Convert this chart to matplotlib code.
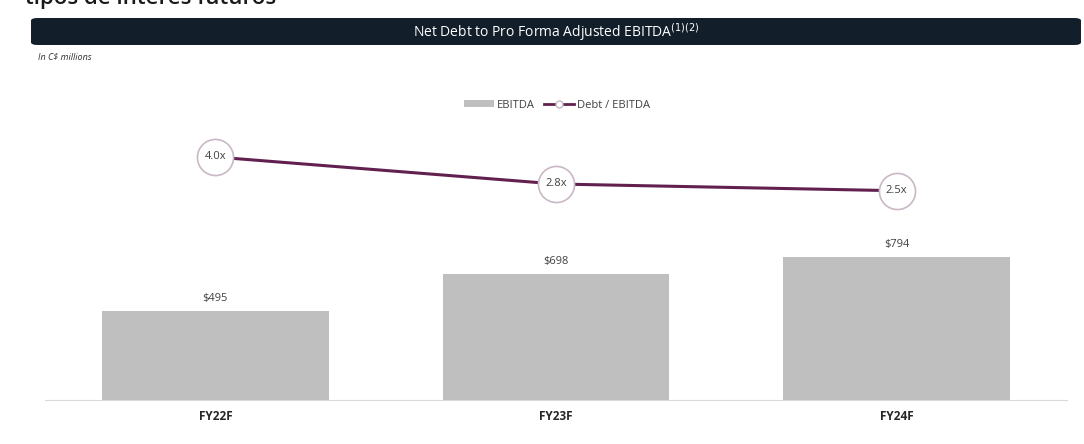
import matplotlib.pyplot as plt
from matplotlib.patches import FancyBboxPatch, Patch
from matplotlib.lines import Line2D

categories = ["FY22F", "FY23F", "FY24F"]
ebitda = [495, 698, 794]
debt_ebitda = [4.0, 2.8, 2.5]
bar_labels = ["$495", "$698", "$794"]
ratio_labels = ["4.0x", "2.8x", "2.5x"]

plt.rcParams["font.family"] = ["Open Sans", "DejaVu Sans"]

W, H = 1084, 444
fig = plt.figure(figsize=(W / 100, H / 100), dpi=100)

# cut-off heading from the slide above (clipped in the source too)
fig.text(25 / W, 1 - 4 / H, "tipos de interés futuros", fontsize=16,
         fontweight="semibold", color="#1a1a1a", va="baseline", ha="left")

# dark title bar
bar = FancyBboxPatch((31 / W, 1 - 45 / H), 1050 / W, 27 / H,
                     boxstyle="round,pad=0,rounding_size=0.006",
                     transform=fig.transFigure, facecolor="#121e2a",
                     edgecolor="none")
fig.patches.append(bar)
fig.text(556 / W, 1 - 32 / H, "Net Debt to Pro Forma Adjusted EBITDA$^{(1)(2)}$",
         color="white", fontsize=10, ha="center", va="center")
fig.text(38 / W, 1 - 57 / H, "In C$ millions", fontsize=6.5, style="italic",
         color="#333333", ha="left", va="center")

ax = fig.add_axes([45 / W, 1 - 400 / H, 1022 / W, 340 / H])
x = range(len(categories))
ax.bar(x, ebitda, width=0.666, color="#bfbfbf", zorder=2)
for i, v in enumerate(ebitda):
    ax.annotate(bar_labels[i], (i, v), xytext=(0, 5), textcoords="offset points",
                ha="center", va="bottom", fontsize=8, color="#404040")
ax.set_xlim(-0.5, 2.5)
ax.set_ylim(0, 1889)
ax.set_xticks(list(x))
ax.set_xticklabels(categories, fontsize=8.5, fontweight="bold", color="#262626")
ax.tick_params(axis="x", length=0, pad=7)
ax.set_yticks([])
for s in ["top", "left", "right"]:
    ax.spines[s].set_visible(False)
ax.spines["bottom"].set_color("#d9d9d9")

ax2 = ax.twinx()
ax2.plot(list(x), debt_ebitda, color="#62204f", lw=2.2, marker="o",
         markersize=26, markerfacecolor="white", markeredgecolor="#c9b8c6",
         markeredgewidth=1.2, zorder=3)
for i, v in enumerate(debt_ebitda):
    ax2.text(i, v, ratio_labels[i], ha="center", va="center", fontsize=8,
             color="#404040", zorder=4)
ax2.set_ylim(-6.8, 8.31)
ax2.set_yticks([])
for s in ["top", "left", "right", "bottom"]:
    ax2.spines[s].set_visible(False)

handles = [Patch(facecolor="#bfbfbf", edgecolor="none"),
           Line2D([0], [0], color="#62204f", lw=2, marker="o", markersize=5,
                  markerfacecolor="white", markeredgecolor="#c9b8c6")]
fig.legend(handles, ["EBITDA", "Debt / EBITDA"], loc="center",
           bbox_to_anchor=(557 / W, 1 - 105 / H), ncol=2, frameon=False,
           fontsize=8, labelcolor="#404040", handlelength=2.7,
           handleheight=0.7, columnspacing=0.8, handletextpad=0.25)

fig.savefig("out.png", dpi=100)
